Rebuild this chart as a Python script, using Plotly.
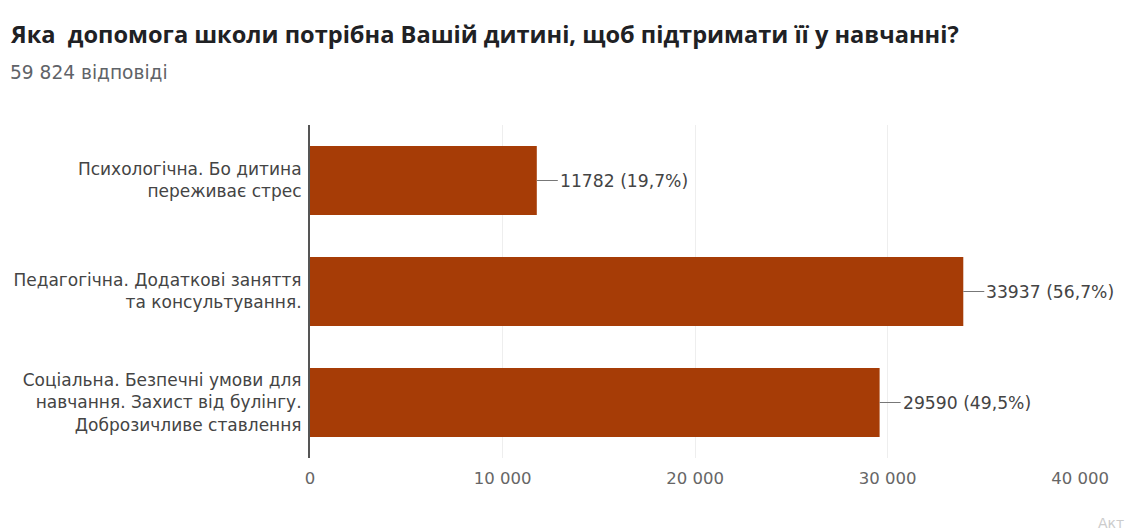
import plotly.graph_objects as go

# Survey answers (top to bottom as displayed)
categories = [
    "Психологічна. Бо дитина<br>переживає стрес",
    "Педагогічна. Додаткові заняття<br>та консультування.",
    "Соціальна. Безпечні умови для<br>навчання. Захист від булінгу.<br>Доброзичливе ставлення",
]
counts = [11782, 33937, 29590]
percents = ["19,7%", "56,7%", "49,5%"]
total_responses = "59 824"
tick_values = [0, 10000, 20000, 30000, 40000]
tick_labels = ["0", "10 000", "20 000", "30 000", "40 000"]

W, H = 1128, 531
L, R, T, B = 310, 48, 125, 73
plot_w = W - L - R
plot_h = H - T - B

BODY_FONT = "DejaVu Sans, Verdana, sans-serif"


def px_x(px):
    return (px - L) / plot_w


def px_y(py):
    return (H - B - py) / plot_h


fig = go.Figure(
    go.Bar(
        x=counts,
        y=categories,
        orientation="h",
        marker=dict(color="#a63c06", line=dict(width=0)),
        width=0.62,
        hoverinfo="skip",
    )
)

# Value labels with short leader lines
for c, cat, p in zip(counts, categories, percents):
    fig.add_annotation(
        x=c, y=cat, xref="x", yref="y",
        text=f"{c} ({p})",
        showarrow=True, arrowhead=0, arrowwidth=1, arrowcolor="#777777",
        ax=21, ay=0, xanchor="left", yanchor="middle",
        font=dict(family=BODY_FONT, size=17.2, color="#444444"),
    )

fig.add_annotation(
    x=px_x(8), y=px_y(34), xref="paper", yref="paper",
    text="<b>Яка  допомога школи потрібна Вашій дитині, щоб підтримати її у навчанні?</b>",
    showarrow=False, xanchor="left", yanchor="middle",
    font=dict(family="Open Sans, sans-serif", size=23.6, color="#202124"),
)
fig.add_annotation(
    x=px_x(8), y=px_y(73), xref="paper", yref="paper",
    text=f"{total_responses} відповіді",
    showarrow=False, xanchor="left", yanchor="middle",
    font=dict(family=BODY_FONT, size=18.6, color="#5f6368"),
)
fig.add_annotation(
    x=px_x(1096), y=px_y(523), xref="paper", yref="paper",
    text="Акт",
    showarrow=False, xanchor="left", yanchor="middle",
    font=dict(family=BODY_FONT, size=14, color="#cccccc"),
)

fig.update_layout(
    width=W, height=H,
    margin=dict(l=L, r=R, t=T, b=B, pad=0, autoexpand=False),
    paper_bgcolor="white", plot_bgcolor="white",
    showlegend=False,
    bargap=0.38,
    font=dict(family=BODY_FONT),
)
fig.update_xaxes(
    range=[0, 40000],
    tickvals=tick_values, ticktext=tick_labels,
    showgrid=True, gridcolor="#eeeeee", gridwidth=1,
    zeroline=False, showline=False, ticks="",
    tickfont=dict(size=16.5, color="#666666"),
    ticklabelstandoff=8, automargin=False,
)
fig.update_yaxes(
    autorange="reversed",
    showgrid=False, zeroline=False,
    showline=True, linecolor="#555555", linewidth=2,
    ticks="", ticklabelstandoff=3, automargin=False,
    tickfont=dict(size=17, color="#444444"),
)

fig.write_html("out.html")
